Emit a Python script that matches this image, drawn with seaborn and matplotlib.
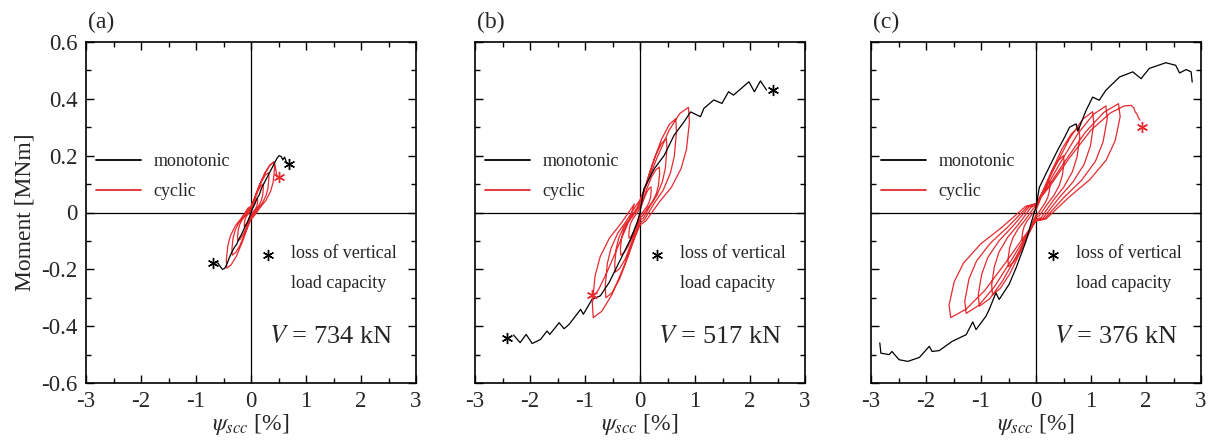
import matplotlib
matplotlib.use("Agg")
import matplotlib.pyplot as plt
import pandas as pd
import seaborn as sns

# ---- axis ticks ----
x_ticks = [-3, -2, -1, 0, 1, 2, 3]
x_tick_labels = ["-3", "-2", "-1", "0", "1", "2", "3"]
y_ticks = [-0.6, -0.4, -0.2, 0.0, 0.2, 0.4, 0.6]
y_tick_labels = ["-0.6", "-0.4", "-0.2", "0", "0.2", "0.4", "0.6"]

panel_tags = ["(a)", "(b)", "(c)"]
axial_loads = ["734", "517", "376"]

# ---- panel (a), V = 734 kN ----
mono_a_x = [-0.65, -0.6, -0.56, -0.52, -0.48, -0.44, -0.4, -0.35, -0.3, -0.26,
            -0.22, -0.18, -0.14, -0.1, -0.06, -0.02, 0, 0.03, 0.07, 0.11,
            0.15, 0.19, 0.23, 0.27, 0.31, 0.35, 0.39, 0.43, 0.47, 0.51,
            0.55, 0.58, 0.61, 0.64]
mono_a_m = [-0.175, -0.178, -0.19, -0.2, -0.197, -0.182, -0.162, -0.14, -0.122, -0.112,
            -0.093, -0.08, -0.063, -0.045, -0.032, -0.012, 0.0, 0.015, 0.03, 0.05,
            0.062, 0.085, 0.1, 0.115, 0.13, 0.145, 0.16, 0.175, 0.19, 0.2,
            0.197, 0.185, 0.195, 0.18]
cyc_a_x = [
    0, .018, .042, .072, .098, .12, .122, .115, .102, .078, .048, .014,
    0, -.018, -.042, -.072, -.098, -.12, -.122, -.115, -.102, -.078, -.048, -.014,
    0, .033, .077, .132, .18, .22, .224, .211, .187, .143, .088, .026,
    0, -.036, -.084, -.144, -.197, -.24, -.245, -.23, -.204, -.156, -.096, -.029,
    0, .048, .112, .192, .262, .32, .326, .307, .272, .208, .128, .038,
    0, -.051, -.119, -.204, -.279, -.34, -.347, -.326, -.289, -.221, -.136, -.041,
    0, .063, .147, .252, .344, .42, .428, .403, .357, .273, .168, .05,
    0, -.066, -.154, -.264, -.361, -.44, -.449, -.422, -.374, -.286, -.176, -.053,
    0, .063, .15, .26, .35, .42, .44, .46, .47,
]
cyc_a_m = [
    .006, .014, .026, .039, .047, .05, .043, .03, .021, .012, .005, -.004,
    -.006, -.014, -.026, -.039, -.047, -.05, -.043, -.03, -.021, -.012, -.005, .004,
    .012, .028, .052, .078, .094, .10, .086, .06, .042, .024, .01, -.008,
    -.012, -.028, -.052, -.078, -.094, -.10, -.086, -.06, -.042, -.024, -.01, .008,
    .017, .039, .073, .109, .132, .14, .12, .084, .059, .034, .014, -.011,
    -.018, -.042, -.078, -.117, -.141, -.15, -.129, -.09, -.063, -.036, -.015, .012,
    .021, .05, .093, .139, .167, .178, .153, .107, .075, .043, .018, -.014,
    -.024, -.055, -.102, -.153, -.184, -.196, -.169, -.118, -.082, -.047, -.02, .016,
    .021, .05, .095, .14, .168, .178, .165, .14, .125,
]
fail_mono_a = ([-0.69, 0.69], [-0.178, 0.172])
fail_cyc_a = ([0.5], [0.125])

# ---- panel (b), V = 517 kN ----
mono_b_x = [-2.30, -2.18, -2.07, -1.96, -1.81, -1.69, -1.64, -1.47, -1.38, -1.29,
            -1.08, -1.03, -0.87, -0.72, -0.56, -0.41, -0.17, -0.05, 0.0, 0.07,
            0.26, 0.44, 0.62, 0.80, 0.92, 1.10, 1.16, 1.34, 1.49, 1.61,
            1.70, 1.98, 2.08, 2.19, 2.30]
mono_b_m = [-0.431, -0.458, -0.429, -0.461, -0.447, -0.417, -0.429, -0.388, -0.409, -0.394,
            -0.341, -0.358, -0.305, -0.293, -0.246, -0.187, -0.093, -0.034, 0.0, 0.083,
            0.154, 0.201, 0.272, 0.319, 0.354, 0.337, 0.366, 0.396, 0.384, 0.425,
            0.413, 0.46, 0.425, 0.463, 0.431]
cyc_b_x = [
    0, .03, .07, .12, .164, .2, .204, .192, .17, .13, .08, .024,
    0, -.03, -.07, -.12, -.164, -.2, -.204, -.192, -.17, -.13, -.08, -.024,
    0, .053, .123, .21, .287, .35, .357, .336, .298, .228, .14, .042,
    0, -.053, -.123, -.21, -.287, -.35, -.357, -.336, -.298, -.228, -.14, -.042,
    0, .072, .168, .288, .394, .48, .49, .461, .408, .312, .192, .058,
    0, -.068, -.158, -.27, -.369, -.45, -.459, -.432, -.383, -.293, -.18, -.054,
    0, .098, .228, .39, .533, .65, .663, .624, .553, .423, .26, .078,
    0, -.093, -.217, -.372, -.508, -.62, -.632, -.595, -.527, -.403, -.248, -.074,
    0, .132, .308, .528, .722, .88, .898, .845, .748, .572, .352, .106,
    0, -.128, -.298, -.51, -.697, -.85, -.867, -.816, -.723, -.553, -.34, -.102,
    -.2, -.4, -.6, -.75, -.82,
]
cyc_b_m = [
    .011, .025, .047, .07, .085, .09, .077, .054, .038, .022, .009, -.007,
    -.011, -.025, -.047, -.07, -.085, -.09, -.077, -.054, -.038, -.022, -.009, .007,
    .019, .045, .083, .125, .15, .16, .138, .096, .067, .038, .016, -.013,
    -.018, -.042, -.078, -.117, -.141, -.15, -.129, -.09, -.063, -.036, -.015, .012,
    .031, .073, .135, .203, .244, .26, .224, .156, .109, .062, .026, -.021,
    -.025, -.059, -.109, -.164, -.197, -.21, -.181, -.126, -.088, -.05, -.021, .017,
    .04, .092, .172, .257, .31, .33, .284, .198, .139, .079, .033, -.026,
    -.036, -.084, -.156, -.234, -.282, -.30, -.258, -.18, -.126, -.072, -.03, .024,
    .044, .104, .192, .289, .348, .37, .318, .222, .155, .089, .037, -.03,
    -.044, -.104, -.192, -.289, -.348, -.37, -.318, -.222, -.155, -.089, -.037, .03,
    -.03, -.12, -.21, -.27, -.29,
]
fail_mono_b = ([-2.42, 2.42], [-0.44, 0.43])
fail_cyc_b = ([-0.87], [-0.29])

# ---- panel (c), V = 376 kN ----
mono_c_x = [-2.84, -2.82, -2.67, -2.62, -2.49, -2.33, -2.12, -1.94, -1.89, -1.76,
            -1.52, -1.27, -1.15, -1.09, -0.91, -0.85, -0.73, -0.67, -0.49, -0.36,
            -0.18, -0.06, 0.0, 0.06, 0.18, 0.30, 0.39, 0.52, 0.61, 0.73,
            0.76, 0.91, 1.03, 1.15, 1.27, 1.52, 1.76, 1.91, 2.06, 2.36,
            2.54, 2.61, 2.73, 2.82, 2.84]
mono_c_m = [-0.459, -0.495, -0.50, -0.489, -0.518, -0.524, -0.51, -0.471, -0.489, -0.486,
            -0.453, -0.43, -0.385, -0.412, -0.365, -0.341, -0.283, -0.306, -0.253, -0.194,
            -0.10, -0.018, 0.018, 0.088, 0.136, 0.183, 0.218, 0.265, 0.30, 0.312,
            0.286, 0.359, 0.406, 0.395, 0.43, 0.477, 0.495, 0.471, 0.507, 0.527,
            0.518, 0.491, 0.503, 0.495, 0.459]
cyc_c_x = [
    0, .038, .088, .15, .205, .25, .255, .24, .213, .163, .10, .03,
    0, -.038, -.088, -.15, -.205, -.25, -.255, -.24, -.213, -.163, -.10, -.03,
    0, .075, .175, .30, .41, .50, .51, .48, .425, .325, .20, .06,
    0, -.075, -.175, -.30, -.41, -.50, -.51, -.48, -.425, -.325, -.20, -.06,
    0, .117, .273, .468, .64, .78, .796, .749, .663, .507, .312, .094,
    0, -.119, -.277, -.474, -.648, -.79, -.806, -.758, -.672, -.514, -.316, -.095,
    0, .155, .36, .618, .845, 1.03, 1.05, .989, .876, .67, .412, .124,
    0, -.155, -.36, -.618, -.845, -1.03, -1.05, -.989, -.876, -.67, -.412, -.124,
    0, .19, .445, .762, 1.041, 1.27, 1.295, 1.219, 1.08, .826, .508, .152,
    0, -.19, -.445, -.762, -1.041, -1.27, -1.295, -1.219, -1.08, -.826, -.508, -.152,
    0, .225, .525, .90, 1.23, 1.50, 1.53, 1.44, 1.275, .975, .60, .18,
    0, -.233, -.543, -.93, -1.271, -1.55, -1.581, -1.488, -1.318, -1.008, -.62, -.186,
    0, .26, .6, 1.0, 1.35, 1.6, 1.73, 1.78, 1.80, 1.84, 1.86, 1.89,
]
cyc_c_m = [
    .009, .026, .052, .081, .101, .11, .097, .073, .053, .033, .015, -.007,
    -.008, -.024, -.047, -.074, -.092, -.10, -.088, -.066, -.048, -.03, -.014, .006,
    .016, .048, .094, .148, .184, .20, .176, .132, .096, .06, .028, -.012,
    -.015, -.046, -.089, -.141, -.175, -.19, -.167, -.125, -.091, -.057, -.027, .011,
    .024, .072, .141, .222, .276, .30, .264, .198, .144, .09, .042, -.018,
    -.023, -.07, -.136, -.215, -.267, -.29, -.255, -.191, -.139, -.087, -.041, .017,
    .028, .085, .167, .263, .327, .355, .312, .234, .17, .107, .05, -.021,
    -.026, -.079, -.155, -.244, -.304, -.33, -.29, -.218, -.158, -.099, -.046, .02,
    .03, .09, .176, .278, .345, .375, .33, .248, .18, .113, .053, -.023,
    -.028, -.085, -.167, -.263, -.327, -.355, -.312, -.234, -.17, -.107, -.05, .021,
    .031, .092, .18, .283, .352, .383, .337, .253, .184, .115, .054, -.023,
    -.03, -.089, -.174, -.274, -.34, -.37, -.326, -.244, -.178, -.111, -.052, .022,
    .031, .095, .19, .29, .35, .375, .377, .368, .355, .345, .335, .325,
]
fail_mono_c = ([], [])
fail_cyc_c = ([1.93], [0.30])

RED = "#e62a2e"
STAR = (6, 2, 0)

sns.set_theme(style="ticks")
plt.rcParams["font.family"] = ["Liberation Serif", "DejaVu Serif"]
plt.rcParams["mathtext.fontset"] = "stix"
plt.rcParams["axes.unicode_minus"] = False

panels = [
    (mono_a_x, mono_a_m, cyc_a_x, cyc_a_m, fail_mono_a, fail_cyc_a),
    (mono_b_x, mono_b_m, cyc_b_x, cyc_b_m, fail_mono_b, fail_cyc_b),
    (mono_c_x, mono_c_m, cyc_c_x, cyc_c_m, fail_mono_c, fail_cyc_c),
]
lefts_px = [86, 475, 871]
W, H = 1208, 443

fig = plt.figure(figsize=(W / 100, H / 100), dpi=100)
fig.patch.set_facecolor("white")

for i, (mx, mm, cx, cm, fm, fc) in enumerate(panels):
    ax = fig.add_axes([lefts_px[i] / W, 60 / H, 330 / W, 341 / H])
    ax.set_facecolor("white")

    ax.axhline(0, color="black", lw=0.9, zorder=1)
    ax.axvline(0, color="black", lw=0.9, zorder=1)

    mono = pd.DataFrame({"psi": mx, "moment": mm})
    cyc = pd.DataFrame({"psi": cx, "moment": cm})
    sns.lineplot(data=mono, x="psi", y="moment", sort=False, estimator=None,
                 color="black", lw=0.9, ax=ax, label="monotonic", zorder=3)
    sns.lineplot(data=cyc, x="psi", y="moment", sort=False, estimator=None,
                 color=RED, lw=0.9, ax=ax, label="cyclic", zorder=2)

    if fm[0]:
        ax.plot(fm[0], fm[1], ls="none", marker=STAR, ms=8, mew=1.0,
                color="black", zorder=4)
    ax.plot(fc[0], fc[1], ls="none", marker=STAR, ms=8, mew=1.0,
            color=RED, zorder=4)

    ax.set_xlim(-3, 3)
    ax.set_ylim(-0.6, 0.6)
    ax.set_xticks(x_ticks)
    ax.set_xticklabels(x_tick_labels)
    ax.set_xticks([-2.5, -1.5, -0.5, 0.5, 1.5, 2.5], minor=True)
    ax.set_yticks(y_ticks)
    ax.set_yticks([-0.5, -0.3, -0.1, 0.1, 0.3, 0.5], minor=True)
    if i == 0:
        ax.set_yticklabels(y_tick_labels)
        ax.set_ylabel("Moment [MNm]", fontsize=17, labelpad=4)
    else:
        ax.set_yticklabels([])
        ax.set_ylabel("")
    ax.set_xlabel(r"$\psi_{scc}$ [%]", fontsize=17, labelpad=0)

    ax.tick_params(which="both", direction="in", top=True, right=True,
                   labelsize=16.5, color="black", width=1.0)
    ax.tick_params(which="major", length=6, pad=6)
    ax.tick_params(which="minor", length=3.5)
    for sp in ax.spines.values():
        sp.set_linewidth(1.2)
        sp.set_color("black")

    leg = ax.legend(loc="upper left", bbox_to_anchor=(0.03, 0.675), frameon=False,
                    fontsize=13, handlelength=2.5, handletextpad=0.7,
                    labelspacing=0.75, borderpad=0, borderaxespad=0)
    for ln in leg.get_lines():
        ln.set_linewidth(1.3)

    ax.plot([0.55], [0.375], transform=ax.transAxes, ls="none",
            marker=STAR, ms=8, mew=1.0, color="black")
    ax.text(0.62, 0.38, "loss of vertical", transform=ax.transAxes,
            fontsize=13, va="center", ha="left")
    ax.text(0.62, 0.293, "load capacity", transform=ax.transAxes,
            fontsize=13, va="center", ha="left")
    ax.text(0.93, 0.136, r"$V$ = " + axial_loads[i] + " kN", transform=ax.transAxes,
            fontsize=19, va="center", ha="right")
    ax.text(0.005, 1.025, panel_tags[i], transform=ax.transAxes,
            fontsize=17, va="bottom", ha="left")

fig.savefig("out.png", dpi=100, facecolor="white")
